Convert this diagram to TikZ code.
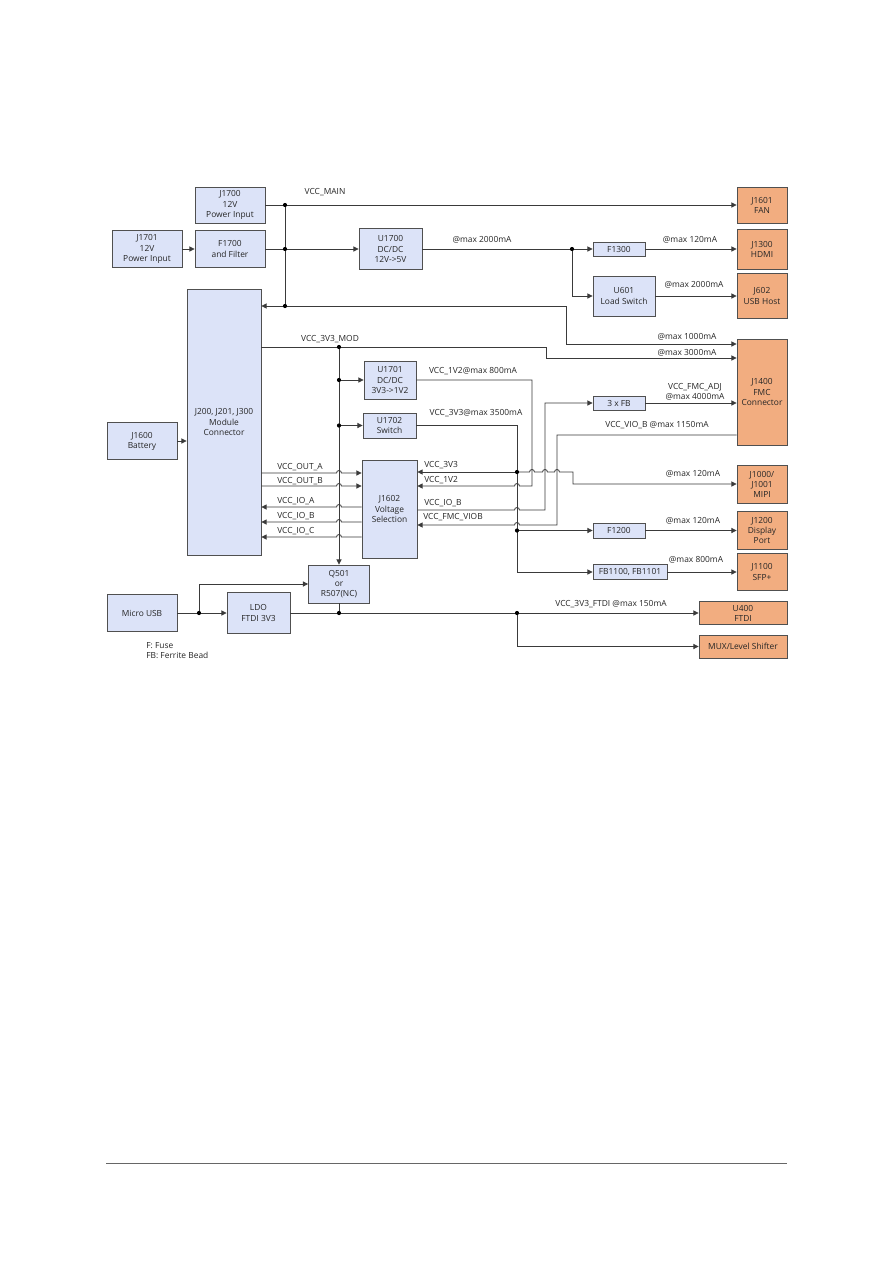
\documentclass[tikz,border=0pt]{standalone}
\usepackage{fontspec}
\setmainfont{Open Sans}
\usetikzlibrary{arrows.meta, positioning, calc}
\definecolor{boxblue}{HTML}{DCE3F8}
\definecolor{connorange}{HTML}{F2AD80}
\definecolor{edgegray}{HTML}{505050}
\definecolor{wiregray}{HTML}{3A3A3A}
\newlength\unitpx
\setlength\unitpx{0.6667pt}
\newcommand{\hopright}{arc[start angle=180, end angle=360, radius=2.5]}
\newcommand{\hopleft}{arc[start angle=0, end angle=-180, radius=2.5]}

\begin{document}
\begin{tikzpicture}[
        x=0.6667pt, y=-0.6667pt,
        font=\fontsize{5.6}{6.7}\selectfont,
        wh/.style 2 args={minimum width=#1*\unitpx, minimum height=#2*\unitpx},
        box/.style={draw=edgegray, line width=0.6pt, fill=boxblue, align=center, inner sep=1pt, text=black!85},
        connbox/.style={box, fill=connorange},
        wire/.style={draw=wiregray, line width=0.55pt},
        arrow/.style={wire, -{Triangle[length=3.4pt, width=3.4pt]}},
        lbl/.style={inner sep=0pt, text=black!85},
        lbl_left/.style={lbl, anchor=west}
    ]
    % page size and footer rule
    \fill[white] (0,0) rectangle (893,1263);
    \useasboundingbox (0,0) rectangle (893,1263);
    \coordinate (footL) at (106,1163);
    \coordinate (footR) at (787,1163);
    \draw[black!60, line width=0.5pt] (footL) -- (footR);

    % power inputs and module connector
    \node[box, wh={70}{36}] (j1700) at (230,205) {J1700\\12V\\Power Input};
    \node[box, wh={70}{37}] (j1701) at (147,249) {J1701\\12V\\Power Input};
    \node[box, wh={70}{37}] (f1700) at (230,249) {F1700\\and Filter};
    \node[box, wh={74}{266}] (jmod) at (224,422) {J200, J201, J300\\Module\\Connector};
    \node[box, wh={70}{37}] (j1600) at (142,441) {J1600\\Battery};

    % 5V branch
    \node[box, wh={63}{41}] (u1700) at (390.5,249) {U1700\\DC/DC\\12V->5V};
    \node[box, wh={52}{14}] (f1300) at (619,249) {F1300};
    \node[box, wh={62}{40}] (u601) at (624,296) {U601\\Load Switch};

    % 3V3 branch
    \node[box, wh={52}{38}] (u1701) at (390,380) {U1701\\DC/DC\\3V3->1V2};
    \node[box, wh={53}{25}] (u1702) at (389.5,425.5) {U1702\\Switch};
    \node[box, wh={55}{98}] (j1602) at (389.5,509) {J1602\\Voltage\\Selection};
    \node[box, wh={52}{14}] (fb3) at (619,403) {3 x FB};
    \node[box, wh={52}{15}] (f1200) at (619,530.5) {F1200};
    \node[box, wh={74}{15}] (fb1100) at (630,572) {FB1100, FB1101};

    % USB / FTDI
    \node[box, wh={70}{37}] (musb) at (142,613) {Micro USB};
    \node[box, wh={63}{41}] (ldo) at (258.5,613) {LDO\\FTDI 3V3};
    \node[box, wh={61}{38}] (q501) at (339,584) {Q501\\or\\R507(NC)};

    % connectors (orange)
    \node[connbox, wh={50}{36}] (j1601) at (762,205) {J1601\\FAN};
    \node[connbox, wh={50}{40}] (j1300) at (762,249) {J1300\\HDMI};
    \node[connbox, wh={50}{45}] (j602) at (762,296) {J602\\USB Host};
    \node[connbox, wh={50}{106}] (j1400) at (762,392) {J1400\\FMC\\Connector};
    \node[connbox, wh={50}{38}] (j1000) at (762,484) {J1000/\\J1001\\MIPI};
    \node[connbox, wh={50}{38}] (j1200) at (762,530.5) {J1200\\Display\\Port};
    \node[connbox, wh={50}{37}] (j1100) at (762,572) {J1100\\SFP+};
    \node[connbox, wh={88}{23}] (u400) at (743,613) {U400\\FTDI};
    \node[connbox, wh={88}{23}] (mux) at (743,646.5) {MUX/Level Shifter};

    % legend
    \node[lbl, anchor=north west, align=left] (legend) at (146,642) {F: Fuse\\FB: Ferrite Bead};

    % junctions
    \coordinate (mainTop) at (285,205);
    \coordinate (mainMid) at (285,249);
    \coordinate (mainBot) at (285,306);
    \coordinate (mainRun) at (566,344);
    \coordinate (fiveV) at (572,249);
    \coordinate (modTop) at (339,347);
    \coordinate (modRun) at (546,358);
    \coordinate (modA) at (339,380);
    \coordinate (modB) at (339,425.5);
    \coordinate (outA) at (339,473);
    \coordinate (outB) at (339,486);
    \coordinate (ioA) at (339,507);
    \coordinate (ioB) at (339,522);
    \coordinate (ioC) at (339,537);
    \coordinate (oneTwo) at (532,380);
    \coordinate (oneTwoB) at (532,486);
    \coordinate (threeTop) at (517,425.5);
    \coordinate (vThree) at (517,472);
    \coordinate (vThreeB) at (517,530.5);
    \coordinate (adjUp) at (545,403);
    \coordinate (adjDown) at (545,510);
    \coordinate (vioB) at (557,435);
    \coordinate (fmcVio) at (557,525);
    \coordinate (mipiTurn) at (573,484);
    \coordinate (usbTap) at (199,613);
    \coordinate (ftdiTap) at (339,613);
    \coordinate (ftdiOut) at (517,613);

    % 12V input wiring
    \draw[arrow] (j1701) -- (f1700);
    \draw[wire] (j1700) -- (mainTop);
    \draw[wire] (f1700) -- (mainMid);
    \draw[wire] (mainTop) -- (mainBot);
    \draw[arrow] (mainTop) -- (j1601);
    \draw[arrow] (mainMid) -- (u1700);
    \draw[arrow] (mainBot) -- (jmod.east |- mainBot);
    \draw[arrow] (mainBot) -| (mainRun) -- (j1400.west |- mainRun);
    \draw[arrow] (j1600) -- (jmod.west |- j1600);

    % 5V wiring
    \draw[wire] (u1700) -- (fiveV);
    \draw[arrow] (fiveV) -- (f1300);
    \draw[arrow] (fiveV) |- (u601);
    \draw[arrow] (f1300) -- (j1300);
    \draw[arrow] (u601) -- (j602);

    % VCC_3V3_MOD bus
    \draw[wire] (jmod.east |- modTop) -- (modTop);
    \draw[arrow] (modTop) -| (modRun) -- (j1400.west |- modRun);
    \draw[arrow] (modTop) -- (q501);
    \draw[arrow] (modA) -- (u1701);
    \draw[arrow] (modB) -- (u1702);

    % module <-> voltage selection
    \draw[arrow] (jmod.east |- outA) -- ($(outA)+(-2.5,0)$) \hopright -- (j1602.west |- outA);
    \draw[arrow] (jmod.east |- outB) -- ($(outB)+(-2.5,0)$) \hopright -- (j1602.west |- outB);
    \draw[arrow] (j1602.west |- ioA) -- ($(ioA)+(2.5,0)$) \hopleft -- (jmod.east |- ioA);
    \draw[arrow] (j1602.west |- ioB) -- ($(ioB)+(2.5,0)$) \hopleft -- (jmod.east |- ioB);
    \draw[arrow] (j1602.west |- ioC) -- ($(ioC)+(2.5,0)$) \hopleft -- (jmod.east |- ioC);

    % 1V2 and 3V3 rails
    \draw[arrow] (u1701) -- (oneTwo) -- (oneTwoB) -- ($(vThree |- oneTwoB)+(2.5,0)$) \hopleft -- (j1602.east |- oneTwoB);
    \draw[wire] (u1702) -- (threeTop) -- (vThree);
    \draw[arrow] (vThree) -- (j1602.east |- vThree);
    \draw[arrow] (vThree) -- (vThree |- fb1100) -- (fb1100);
    \draw[arrow] (vThreeB) -- (f1200);
    \draw[arrow] (vThree) -- ($(oneTwo |- vThree)+(-2.5,0)$) \hopright
        -- ($(adjUp |- vThree)+(-2.5,0)$) \hopright
        -- ($(vioB |- vThree)+(-2.5,0)$) \hopright
        -- (mipiTurn |- vThree) -- (mipiTurn) -- (j1000);

    % FMC rails
    \draw[arrow] (j1602.east |- adjDown) -- ($(vThree |- adjDown)+(-2.5,0)$) \hopright -- (adjDown) -- (adjUp) -- (fb3);
    \draw[arrow] (fb3) -- (j1400.west |- fb3);
    \draw[arrow] (j1400.west |- vioB) -- (vioB) -- (fmcVio) -- ($(vThree |- fmcVio)+(2.5,0)$) \hopleft -- (j1602.east |- fmcVio);
    \draw[arrow] (f1200) -- (j1200);
    \draw[arrow] (fb1100) -- (j1100);

    % USB / FTDI wiring
    \draw[wire] (musb) -- (usbTap);
    \draw[arrow] (usbTap) -- (ldo);
    \draw[arrow] (usbTap) |- (q501);
    \draw[arrow] (ldo) -- (u400);
    \draw[wire] (q501) -- (ftdiTap);
    \draw[arrow] (ftdiOut) |- (mux);

    % junction dots
    \foreach \p in {mainTop, mainMid, mainBot, fiveV, modTop, modA, modB, vThree, vThreeB, usbTap, ftdiTap, ftdiOut}
        \fill[black] (\p) circle[radius=2.1];

    % wire labels
    \node[lbl] (lMain) at (325,192) {VCC\_MAIN};
    \node[lbl] (l5v) at (482,240) {@max 2000mA};
    \node[lbl] (lHdmi) at (690,240) {@max 120mA};
    \node[lbl] (lUsb) at (694,285) {@max 2000mA};
    \node[lbl] (lMod) at (330,339) {VCC\_3V3\_MOD};
    \node[lbl] (l1000) at (687,337) {@max 1000mA};
    \node[lbl] (l3000) at (687,353) {@max 3000mA};
    \node[lbl] (l1v2) at (473,371) {VCC\_1V2@max 800mA};
    \node[lbl] (l3v3) at (476,413) {VCC\_3V3@max 3500mA};
    \node[lbl, align=center] (lAdj) at (695,392) {VCC\_FMC\_ADJ\\@max 4000mA};
    \node[lbl] (lVio) at (657,425) {VCC\_VIO\_B @max 1150mA};
    \node[lbl] (lMipi) at (693,474) {@max 120mA};
    \node[lbl] (lDp) at (693,521) {@max 120mA};
    \node[lbl] (lSfp) at (696,560) {@max 800mA};
    \node[lbl] (lFtdi) at (611,604) {VCC\_3V3\_FTDI @max 150mA};
    \node[lbl_left] (lOutA) at (277,467) {VCC\_OUT\_A};
    \node[lbl_left] (lOutB) at (277,481) {VCC\_OUT\_B};
    \node[lbl_left] (lIoA) at (277,501) {VCC\_IO\_A};
    \node[lbl_left] (lIoB) at (277,516) {VCC\_IO\_B};
    \node[lbl_left] (lIoC) at (277,531) {VCC\_IO\_C};
    \node[lbl_left] (lSel3v3) at (424,465) {VCC\_3V3};
    \node[lbl_left] (lSel1v2) at (424,480) {VCC\_1V2};
    \node[lbl_left] (lSelIoB) at (424,503) {VCC\_IO\_B};
    \node[lbl_left] (lSelVio) at (423,517) {VCC\_FMC\_VIOB};
\end{tikzpicture}
\end{document}
